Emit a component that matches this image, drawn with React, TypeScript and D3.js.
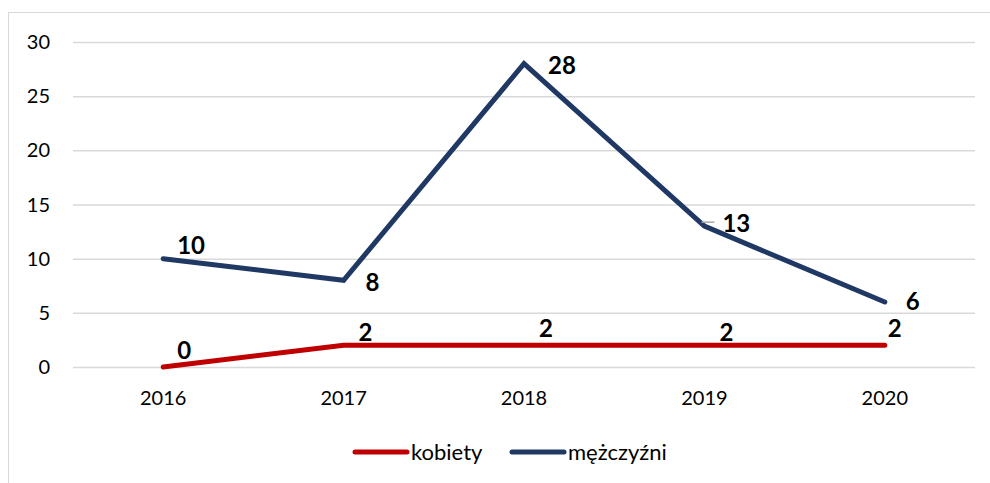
import React, { useEffect, useRef } from 'react';
import * as d3 from 'd3';

const years = ['2016', '2017', '2018', '2019', '2020'];
const kobiety = [0, 2, 2, 2, 2];
const mezczyzni = [10, 8, 28, 13, 6];
const yTicks = [0, 5, 10, 15, 20, 25, 30];

const FONT = 'Lato, "Open Sans", sans-serif';

const App = () => {
  const svgRef = useRef<SVGSVGElement>(null);

  useEffect(() => {
    const width = 990;
    const height = 483;
    const svg = d3.select(svgRef.current).attr('width', width).attr('height', height);
    svg.selectAll('*').remove();

    // chart border
    svg
      .append('rect')
      .attr('x', 8.5)
      .attr('y', 12.5)
      .attr('width', 1000)
      .attr('height', 500)
      .attr('fill', 'white')
      .attr('stroke', '#d9d9d9')
      .attr('stroke-width', 1);

    const x = d3.scaleBand().domain(years).range([73, 975]);
    const y = d3.scaleLinear().domain([0, 30]).range([367, 42]);

    // gridlines
    svg
      .append('g')
      .selectAll('line')
      .data(yTicks)
      .enter()
      .append('line')
      .attr('x1', 73)
      .attr('x2', 975)
      .attr('y1', d => y(d) + 0.5)
      .attr('y2', d => y(d) + 0.5)
      .attr('stroke', '#d9d9d9')
      .attr('stroke-width', 1.5);

    // y labels
    svg
      .append('g')
      .selectAll('text')
      .data(yTicks)
      .enter()
      .append('text')
      .attr('x', 50)
      .attr('y', d => y(d))
      .attr('dy', '0.35em')
      .attr('text-anchor', 'end')
      .attr('font-family', FONT)
      .attr('font-size', 20)
      .attr('fill', '#000')
      .text(d => d);

    // x labels
    svg
      .append('g')
      .selectAll('text')
      .data(years)
      .enter()
      .append('text')
      .attr('x', d => x(d)! + x.bandwidth() / 2)
      .attr('y', 405)
      .attr('text-anchor', 'middle')
      .attr('font-family', FONT)
      .attr('font-size', 20)
      .attr('fill', '#000')
      .text(d => d);

    const cx = (i: number) => x(years[i])! + x.bandwidth() / 2;
    const line = d3
      .line<number>()
      .x((_, i) => cx(i))
      .y(d => y(d));

    const series = [
      { name: 'kobiety', values: kobiety, color: '#C00000' },
      { name: 'mężczyźni', values: mezczyzni, color: '#203864' },
    ];

    series.forEach(s => {
      svg
        .append('path')
        .datum(s.values)
        .attr('d', line)
        .attr('fill', 'none')
        .attr('stroke', s.color)
        .attr('stroke-width', 5)
        .attr('stroke-linecap', 'round')
        .attr('stroke-linejoin', 'miter');
    });

    // leader line near 13
    svg
      .append('line')
      .attr('x1', cx(3) - 3)
      .attr('x2', cx(3) + 10)
      .attr('y1', y(13) - 4)
      .attr('y2', y(13) - 4)
      .attr('stroke', '#a6a6a6')
      .attr('stroke-width', 1.5);

    // data labels (baseline offsets from the point)
    const blueOffsets = [
      [14, -5],
      [22, 11],
      [24, 10],
      [18, 6],
      [21, 8],
    ];
    const redOffsets = [
      [14, -8],
      [15, -4],
      [15, -8],
      [15, -4],
      [3, -8],
    ];
    const addLabels = (values: number[], offsets: number[][]) => {
      svg
        .append('g')
        .selectAll('text')
        .data(values)
        .enter()
        .append('text')
        .attr('x', (d, i) => cx(i) + offsets[i][0])
        .attr('y', (d, i) => y(d) + offsets[i][1])
        .attr('text-anchor', 'start')
        .attr('font-family', FONT)
        .attr('font-weight', 'bold')
        .attr('font-size', 24)
        .attr('fill', '#000')
        .text(d => d);
    };
    addLabels(mezczyzni, blueOffsets);
    addLabels(kobiety, redOffsets);

    // legend
    const legend = svg.append('g');
    const items = [
      { x: 355, ...series[0] },
      { x: 512, ...series[1] },
    ];
    items.forEach(it => {
      legend
        .append('line')
        .attr('x1', it.x)
        .attr('x2', it.x + 52)
        .attr('y1', 452)
        .attr('y2', 452)
        .attr('stroke', it.color)
        .attr('stroke-width', 5)
        .attr('stroke-linecap', 'round');
      legend
        .append('text')
        .attr('x', it.x + 56)
        .attr('y', 452)
        .attr('dy', '0.35em')
        .attr('font-family', FONT)
        .attr('font-size', 22)
        .attr('fill', '#000')
        .text(it.name);
    });
  }, []);

  return <svg ref={svgRef} style={{ position: 'absolute', left: 0, top: 0 }}></svg>;
};

export default App;
